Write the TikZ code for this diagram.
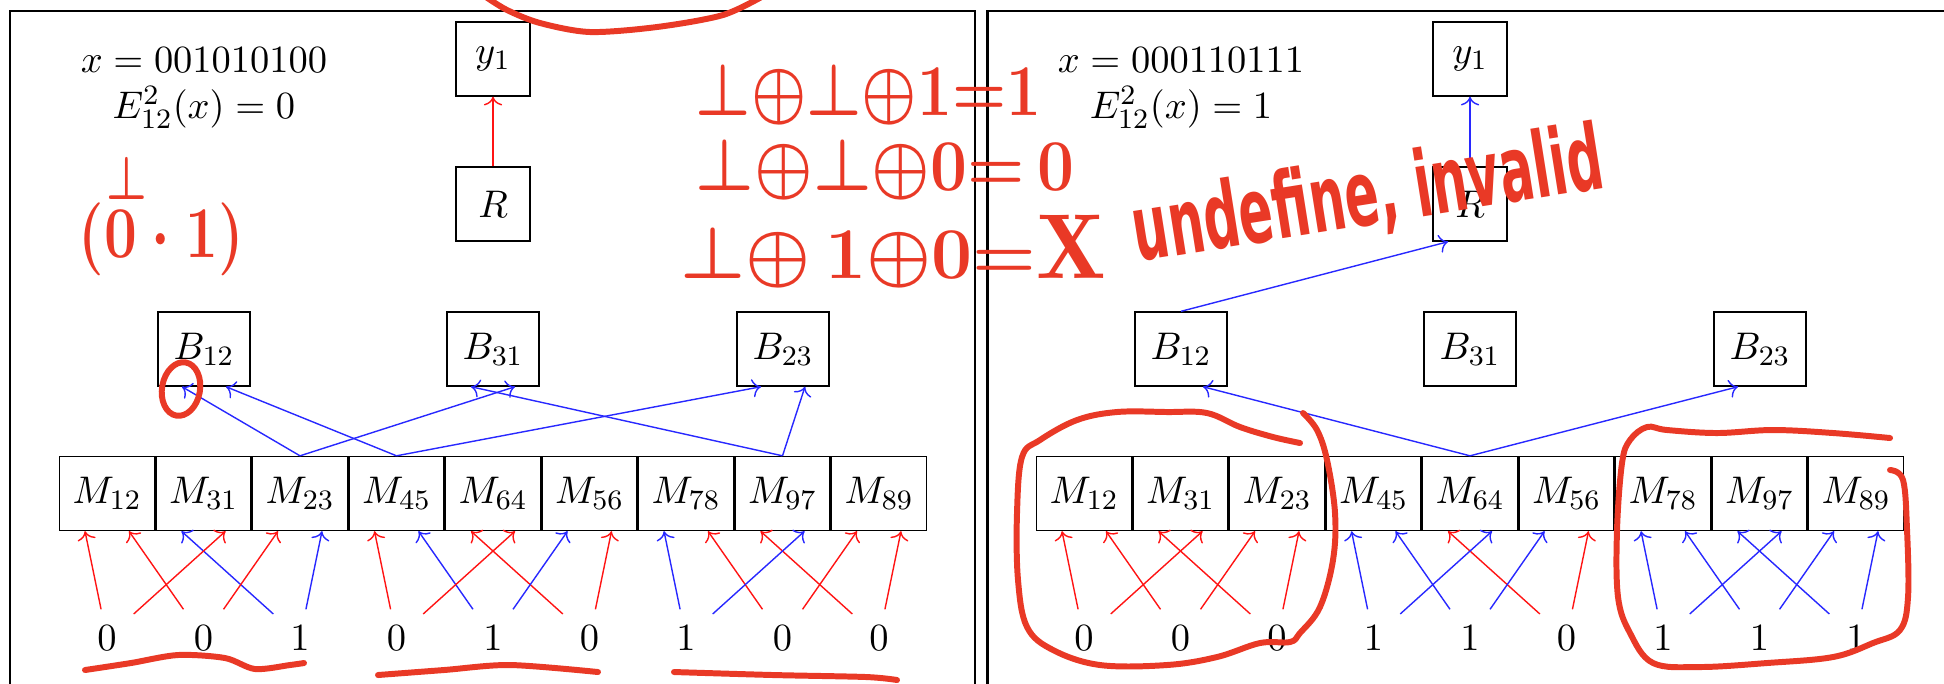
\documentclass[tikz,border=0pt]{standalone}
\usepackage{fontspec}
\usepackage{amsmath}
\usepackage{graphicx}
\usepackage{tikz}
\usetikzlibrary{arrows.meta, positioning, calc}
\newfontfamily\handfont{DejaVu Sans}
\definecolor{handred}{RGB}{233,57,38}
\definecolor{bitred}{RGB}{255,20,20}
\definecolor{bitblue}{RGB}{40,40,255}
\tikzset{
  box/.style={rectangle, draw, thin, minimum width=0.74cm, minimum height=0.74cm, inner sep=0pt},
  bbox/.style={box, minimum width=0.92cm},
  mbox/.style={box, minimum width=0.95cm},
  bitnode/.style={rectangle, minimum width=0.52cm, minimum height=0.56cm, inner sep=0pt},
  zeroarrow/.style={->, thin, color=bitred},
  onearrow/.style={->, thin, color=bitblue},
  frame/.style={line width=0.8pt},
  hand/.style={color=handred, line width=1.7pt, line cap=round, line join=round},
  handtext/.style={text=handred, inner sep=0pt, font=\fontsize{21}{25}\selectfont}
}

\begin{document}
\begin{tikzpicture}[font=\fontsize{11.4}{13.7}\selectfont]
  \useasboundingbox (0,0) rectangle (19.44,-6.83);
  \clip (0,0) rectangle (19.44,-6.83);

  % Frames
  \draw[frame] (0.10,-7) |- (9.75,-0.11) -- (9.75,-7);
  \draw[frame] (9.877,-7) |- (19.6,-0.11);

  % Left panel: x = 001010100
  \node[anchor=base] (lxval) at (2.04,-0.72) {$x = 001010100$};
  \node[anchor=base] (leval) at (2.04,-1.18) {$E^2_{12}(x) = 0$};
  \node[box] (ly) at (4.93,-0.59) {$y_1$};
  \node[box] (lr) at (4.93,-2.04) {$R$};
  \node[bbox] (lb12) at (2.04,-3.49) {$B_{12}$};
  \node[bbox] (lb31) at (4.93,-3.49) {$B_{31}$};
  \node[bbox] (lb23) at (7.83,-3.49) {$B_{23}$};
  \node[mbox] (lm12) at (1.07,-4.935) {$M_{12}$};
  \node[mbox] (lm31) at (2.035,-4.935) {$M_{31}$};
  \node[mbox] (lm23) at (3.00,-4.935) {$M_{23}$};
  \node[mbox] (lm45) at (3.965,-4.935) {$M_{45}$};
  \node[mbox] (lm64) at (4.93,-4.935) {$M_{64}$};
  \node[mbox] (lm56) at (5.895,-4.935) {$M_{56}$};
  \node[mbox] (lm78) at (6.86,-4.935) {$M_{78}$};
  \node[mbox] (lm97) at (7.825,-4.935) {$M_{97}$};
  \node[mbox] (lm89) at (8.79,-4.935) {$M_{89}$};
  \node[bitnode] (ld1) at (1.07,-6.38) {$0$};
  \node[bitnode] (ld2) at (2.035,-6.38) {$0$};
  \node[bitnode] (ld3) at (3.00,-6.38) {$1$};
  \node[bitnode] (ld4) at (3.965,-6.38) {$0$};
  \node[bitnode] (ld5) at (4.93,-6.38) {$1$};
  \node[bitnode] (ld6) at (5.895,-6.38) {$0$};
  \node[bitnode] (ld7) at (6.86,-6.38) {$1$};
  \node[bitnode] (ld8) at (7.825,-6.38) {$0$};
  \node[bitnode] (ld9) at (8.79,-6.38) {$0$};

  \draw[zeroarrow] (ld1) -- ([xshift=-0.22cm]lm12.south);
  \draw[zeroarrow] (ld2) -- ([xshift=0.22cm]lm12.south);
  \draw[onearrow] (ld3) -- ([xshift=-0.22cm]lm31.south);
  \draw[zeroarrow] (ld1) -- ([xshift=0.22cm]lm31.south);
  \draw[zeroarrow] (ld2) -- ([xshift=-0.22cm]lm23.south);
  \draw[onearrow] (ld3) -- ([xshift=0.22cm]lm23.south);
  \draw[zeroarrow] (ld4) -- ([xshift=-0.22cm]lm45.south);
  \draw[onearrow] (ld5) -- ([xshift=0.22cm]lm45.south);
  \draw[zeroarrow] (ld6) -- ([xshift=-0.22cm]lm64.south);
  \draw[zeroarrow] (ld4) -- ([xshift=0.22cm]lm64.south);
  \draw[onearrow] (ld5) -- ([xshift=-0.22cm]lm56.south);
  \draw[zeroarrow] (ld6) -- ([xshift=0.22cm]lm56.south);
  \draw[onearrow] (ld7) -- ([xshift=-0.22cm]lm78.south);
  \draw[zeroarrow] (ld8) -- ([xshift=0.22cm]lm78.south);
  \draw[zeroarrow] (ld9) -- ([xshift=-0.22cm]lm97.south);
  \draw[onearrow] (ld7) -- ([xshift=0.22cm]lm97.south);
  \draw[zeroarrow] (ld8) -- ([xshift=-0.22cm]lm89.south);
  \draw[zeroarrow] (ld9) -- ([xshift=0.22cm]lm89.south);

  \draw[onearrow] (lm23.north) -- ([xshift=-0.22cm]lb12.south);
  \draw[onearrow] (lm45.north) -- ([xshift=0.22cm]lb12.south);
  \draw[onearrow] (lm97.north) -- ([xshift=-0.22cm]lb31.south);
  \draw[onearrow] (lm23.north) -- ([xshift=0.22cm]lb31.south);
  \draw[onearrow] (lm45.north) -- ([xshift=-0.22cm]lb23.south);
  \draw[onearrow] (lm97.north) -- ([xshift=0.22cm]lb23.south);
  \draw[zeroarrow] (lr) -- (ly);

  % Right panel: x = 000110111
  \node[anchor=base] (rxval) at (11.81,-0.72) {$x = 000110111$};
  \node[anchor=base] (reval) at (11.81,-1.18) {$E^2_{12}(x) = 1$};
  \node[box] (ry) at (14.70,-0.59) {$y_1$};
  \node[box] (rr) at (14.70,-2.04) {$R$};
  \node[bbox] (rb12) at (11.81,-3.49) {$B_{12}$};
  \node[bbox] (rb31) at (14.70,-3.49) {$B_{31}$};
  \node[bbox] (rb23) at (17.60,-3.49) {$B_{23}$};
  \node[mbox] (rm12) at (10.84,-4.935) {$M_{12}$};
  \node[mbox] (rm31) at (11.805,-4.935) {$M_{31}$};
  \node[mbox] (rm23) at (12.77,-4.935) {$M_{23}$};
  \node[mbox] (rm45) at (13.735,-4.935) {$M_{45}$};
  \node[mbox] (rm64) at (14.70,-4.935) {$M_{64}$};
  \node[mbox] (rm56) at (15.665,-4.935) {$M_{56}$};
  \node[mbox] (rm78) at (16.63,-4.935) {$M_{78}$};
  \node[mbox] (rm97) at (17.595,-4.935) {$M_{97}$};
  \node[mbox] (rm89) at (18.56,-4.935) {$M_{89}$};
  \node[bitnode] (rd1) at (10.84,-6.38) {$0$};
  \node[bitnode] (rd2) at (11.805,-6.38) {$0$};
  \node[bitnode] (rd3) at (12.77,-6.38) {$0$};
  \node[bitnode] (rd4) at (13.735,-6.38) {$1$};
  \node[bitnode] (rd5) at (14.70,-6.38) {$1$};
  \node[bitnode] (rd6) at (15.665,-6.38) {$0$};
  \node[bitnode] (rd7) at (16.63,-6.38) {$1$};
  \node[bitnode] (rd8) at (17.595,-6.38) {$1$};
  \node[bitnode] (rd9) at (18.56,-6.38) {$1$};

  \draw[zeroarrow] (rd1) -- ([xshift=-0.22cm]rm12.south);
  \draw[zeroarrow] (rd2) -- ([xshift=0.22cm]rm12.south);
  \draw[zeroarrow] (rd3) -- ([xshift=-0.22cm]rm31.south);
  \draw[zeroarrow] (rd1) -- ([xshift=0.22cm]rm31.south);
  \draw[zeroarrow] (rd2) -- ([xshift=-0.22cm]rm23.south);
  \draw[zeroarrow] (rd3) -- ([xshift=0.22cm]rm23.south);
  \draw[onearrow] (rd4) -- ([xshift=-0.22cm]rm45.south);
  \draw[onearrow] (rd5) -- ([xshift=0.22cm]rm45.south);
  \draw[zeroarrow] (rd6) -- ([xshift=-0.22cm]rm64.south);
  \draw[onearrow] (rd4) -- ([xshift=0.22cm]rm64.south);
  \draw[onearrow] (rd5) -- ([xshift=-0.22cm]rm56.south);
  \draw[zeroarrow] (rd6) -- ([xshift=0.22cm]rm56.south);
  \draw[onearrow] (rd7) -- ([xshift=-0.22cm]rm78.south);
  \draw[onearrow] (rd8) -- ([xshift=0.22cm]rm78.south);
  \draw[onearrow] (rd9) -- ([xshift=-0.22cm]rm97.south);
  \draw[onearrow] (rd7) -- ([xshift=0.22cm]rm97.south);
  \draw[onearrow] (rd8) -- ([xshift=-0.22cm]rm89.south);
  \draw[onearrow] (rd9) -- ([xshift=0.22cm]rm89.south);

  \draw[onearrow] (rm64.north) -- ([xshift=0.22cm]rb12.south);
  \draw[onearrow] (rm64.north) -- ([xshift=-0.22cm]rb23.south);
  \draw[onearrow] (rb12.north) -- ([xshift=-0.22cm]rr.south);
  \draw[onearrow] (rr) -- (ry);

  % Handwritten notes
  \draw[hand] plot[smooth] coordinates {(4.83,0.05) (5.07,-0.10) (5.40,-0.23) (5.90,-0.32) (6.57,-0.27) (7.23,-0.15) (7.65,0.05)};
  \draw[hand, rotate around={-10:(1.81,-3.89)}] (1.81,-3.89) ellipse [x radius=0.19, y radius=0.27];
  \draw[hand] plot[smooth] coordinates {(0.85,-6.70) (1.31,-6.63) (1.78,-6.55) (2.25,-6.58) (2.55,-6.69) (2.90,-6.65) (3.04,-6.63)};
  \draw[hand] plot[smooth] coordinates {(3.78,-6.75) (4.44,-6.70) (5.10,-6.65) (5.98,-6.72)};
  \draw[hand] plot[smooth] coordinates {(6.74,-6.72) (7.73,-6.75) (8.66,-6.77) (8.97,-6.80)};
  \draw[hand] plot[smooth, tension=0.6] coordinates {(13.00,-4.43) (12.73,-4.37) (12.40,-4.27) (12.07,-4.13) (11.67,-4.12) (11.17,-4.12) (10.77,-4.20) (10.40,-4.40) (10.22,-4.57) (10.17,-5.13) (10.18,-5.80) (10.27,-6.27) (10.53,-6.50) (11.00,-6.65) (11.67,-6.65) (12.17,-6.57) (12.60,-6.43) (12.90,-6.42) (13.00,-6.33) (13.20,-6.07) (13.33,-5.60) (13.35,-5.13) (13.27,-4.60) (13.17,-4.30) (13.03,-4.13)};
  \draw[hand] plot[smooth, tension=0.6] coordinates {(18.90,-4.38) (18.33,-4.33) (17.73,-4.30) (17.17,-4.33) (16.67,-4.30) (16.47,-4.27) (16.30,-4.40) (16.22,-4.63) (16.17,-5.30) (16.18,-5.97) (16.30,-6.33) (16.53,-6.63) (17.00,-6.67) (17.67,-6.63) (18.33,-6.57) (18.73,-6.43) (19.00,-6.30) (19.08,-5.97) (19.07,-5.30) (19.03,-4.80) (18.90,-4.70)};

  \node[handtext, font=\fontsize{18}{22}\selectfont] (pairbot) at (1.27,-1.78) {\scalebox{0.75}[1]{\boldmath$\bot$}};
  \node[handtext, anchor=base west] (pairnum) at (0.78,-2.57) {\scalebox{0.8}[1]{\boldmath$(0\cdot 1)$}};
  \node[handtext, anchor=base west] (eqone) at (6.95,-1.15) {\scalebox{0.85}[1]{\boldmath$\bot{\oplus}\bot{\oplus}1{=}1$}};
  \node[handtext, anchor=base west] (eqtwo) at (6.95,-1.90) {\scalebox{0.9}[1]{\boldmath$\bot{\oplus}\bot{\oplus}0{=}\,0$}};
  \node[handtext, anchor=base west] (eqthree) at (6.80,-2.78) {\scalebox{1.0}[1]{\boldmath$\bot{\oplus}\,1{\oplus}0{=}$\scalebox{1.25}{$\mathrm{X}$}}};
  \node[handtext, anchor=base west, rotate=9, font=\handfont\bfseries\fontsize{26}{30}\selectfont] (note) at (11.37,-2.62) {\scalebox{0.55}[1]{undefine, invalid}};
\end{tikzpicture}
\end{document}
